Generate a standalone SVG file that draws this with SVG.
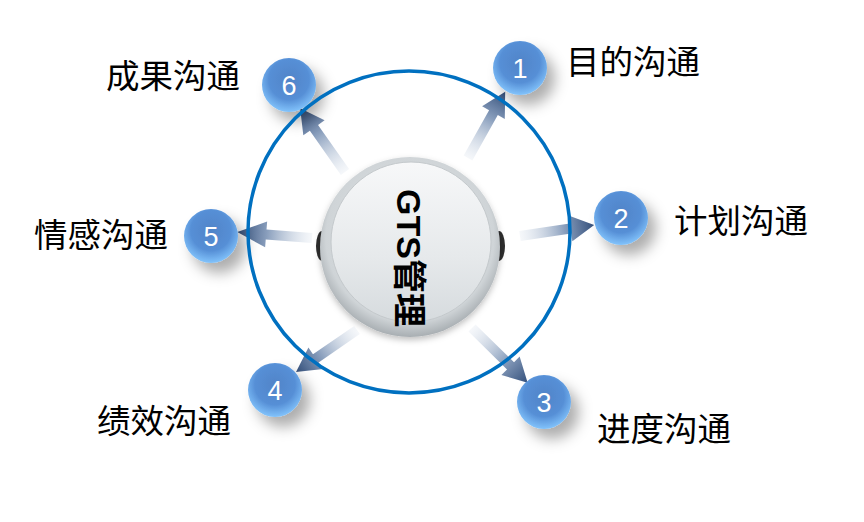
<svg xmlns="http://www.w3.org/2000/svg" width="864" height="522" viewBox="0 0 864 522">
<style>
.lbl{font-family:"Noto Sans CJK SC","Liberation Sans",sans-serif;font-size:33.5px;fill:#000}
.num{font-family:"Liberation Sans","Noto Sans",sans-serif;font-size:27px;fill:#fff;text-anchor:middle}
.ball{fill:url(#gBall);filter:url(#shadow)}
.arr{fill:url(#gArr)}
</style>
<defs>
<radialGradient id="gBall" cx="50%" cy="40%" r="62%">
<stop offset="0" stop-color="#5084c8"/>
<stop offset="0.6" stop-color="#568fd6"/>
<stop offset="1" stop-color="#86c8ff"/>
</radialGradient>
<linearGradient id="gArr" x1="0" y1="0" x2="1" y2="0">
<stop offset="0" stop-color="#dfe6ef" stop-opacity="0.3"/>
<stop offset="0.6" stop-color="#8a9fbd"/>
<stop offset="1" stop-color="#34507c"/>
</linearGradient>
<radialGradient id="gOuter" cx="50%" cy="45%" r="55%">
<stop offset="0" stop-color="#e6e9eb"/>
<stop offset="0.85" stop-color="#cfd4d7"/>
<stop offset="1" stop-color="#a8aeb2"/>
</radialGradient>
<linearGradient id="gInner" x1="0" y1="0" x2="0" y2="1">
<stop offset="0" stop-color="#f7f8f9"/>
<stop offset="0.6" stop-color="#e6e9eb"/>
<stop offset="1" stop-color="#d6dbde"/>
</linearGradient>
<filter id="shadow" x="-60%" y="-60%" width="240%" height="240%">
<feDropShadow dx="8" dy="10" stdDeviation="7" flood-color="#000" flood-opacity="0.32"/>
</filter>
<filter id="cshadow" x="-30%" y="-30%" width="160%" height="160%">
<feDropShadow dx="0" dy="3" stdDeviation="3" flood-color="#000" flood-opacity="0.25"/>
</filter>
</defs>
<rect width="864" height="522" fill="#fff"/>

<g id="connectors">
<g transform="translate(468,158) rotate(-60.7)"><path class="arr" d="M0,-5 L52,-5 L52,-13 L76,0 L52,13 L52,5 L0,5 Z"/></g>
<g transform="translate(345,172) rotate(-125.1)"><path class="arr" d="M0,-5 L54,-5 L54,-13 L78,0 L54,13 L54,5 L0,5 Z"/></g>
<g transform="translate(520,236) rotate(-8.5)"><path class="arr" d="M0,-5 L51,-5 L51,-13 L75,0 L51,13 L51,5 L0,5 Z"/></g>
<g transform="translate(312,238) rotate(184.5)"><path class="arr" d="M0,-5 L46,-5 L46,-13 L75,0 L46,13 L46,5 L0,5 Z"/></g>
<g transform="translate(357,330) rotate(145.5)"><path class="arr" d="M0,-5 L50,-5 L50,-13 L74,0 L50,13 L50,5 L0,5 Z"/></g>
<g transform="translate(472,328) rotate(44.5)"><path class="arr" d="M0,-5 L54,-5 L54,-13 L78,0 L54,13 L54,5 L0,5 Z"/></g>
</g>

<g id="center">
<ellipse cx="322" cy="246" rx="6" ry="15" fill="#2e2e2e"/>
<ellipse cx="499" cy="246" rx="6" ry="15" fill="#2e2e2e"/>
<circle cx="410" cy="247" r="90" fill="url(#gOuter)" filter="url(#cshadow)"/>
<circle cx="411" cy="242" r="80" fill="url(#gInner)" stroke="#c4c9cc" stroke-width="1"/>
<text transform="translate(397,258) rotate(90)" text-anchor="middle" font-family="'Liberation Sans','Noto Sans CJK SC',sans-serif" font-weight="bold" font-size="34" fill="#000">GTS管理</text>
</g>

<g id="n1"><circle class="ball" cx="520" cy="68" r="27"/><text class="num" x="520" y="78">1</text></g>
<g id="n2"><circle class="ball" cx="621" cy="218" r="27"/><text class="num" x="621" y="228">2</text></g>
<g id="n3"><circle class="ball" cx="544" cy="402" r="27"/><text class="num" x="544" y="412">3</text></g>
<g id="n4"><circle class="ball" cx="275" cy="390" r="27"/><text class="num" x="275" y="400">4</text></g>
<g id="n5"><circle class="ball" cx="211" cy="236" r="27"/><text class="num" x="211" y="246">5</text></g>
<g id="n6"><circle class="ball" cx="289" cy="85" r="27"/><text class="num" x="289" y="95">6</text></g>

<circle id="ring" cx="409" cy="232" r="161" fill="none" stroke="#0070c0" stroke-width="3.5"/>

<g id="labels">
<text class="lbl" x="566" y="74">目的沟通</text>
<text class="lbl" x="674" y="233">计划沟通</text>
<text class="lbl" x="597" y="441">进度沟通</text>
<text class="lbl" x="97" y="433">绩效沟通</text>
<text class="lbl" x="34" y="247">情感沟通</text>
<text class="lbl" x="106" y="88">成果沟通</text>
</g>
</svg>
